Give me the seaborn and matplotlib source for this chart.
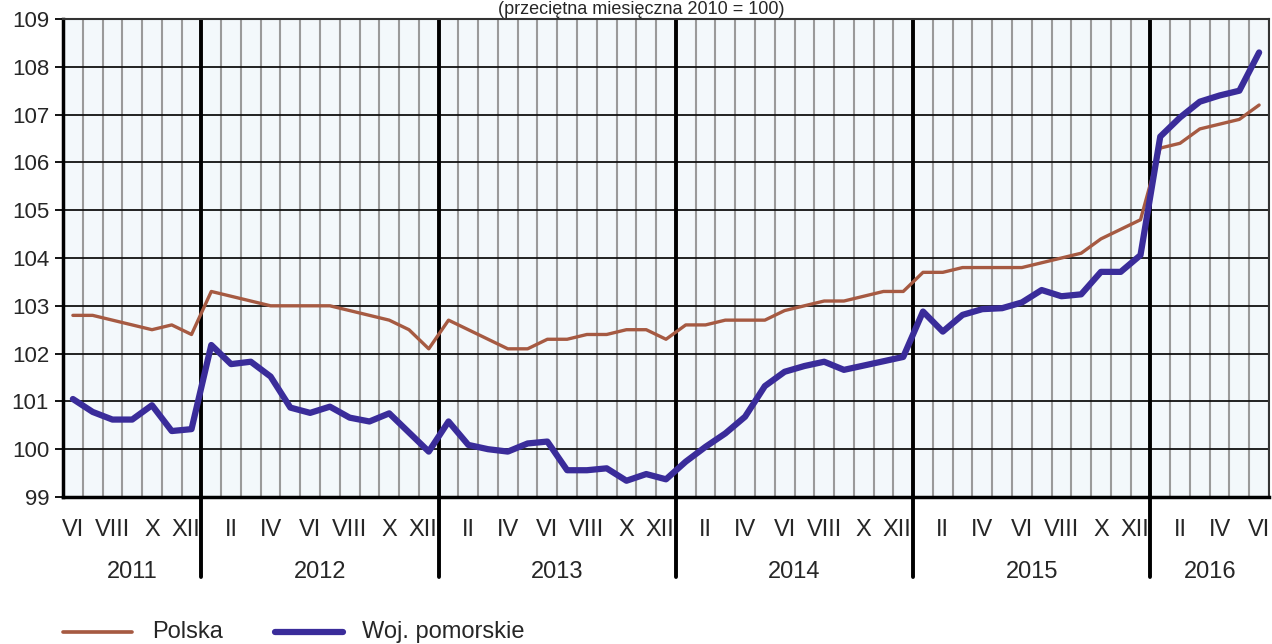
import numpy as np
import pandas as pd
import matplotlib
matplotlib.use("Agg")
import matplotlib.pyplot as plt
from matplotlib.lines import Line2D
import seaborn as sns

# ---- data (VI 2011 .. VI 2016, monthly) ----
years = ["2011", "2012", "2013", "2014", "2015", "2016"]
months_per_year = [7, 12, 12, 12, 12, 6]
first_month = 6  # June 2011
roman = ["I", "II", "III", "IV", "V", "VI", "VII", "VIII", "IX", "X", "XI", "XII"]

polska = [102.8, 102.8, 102.7, 102.6, 102.5, 102.6, 102.4,
          103.3, 103.2, 103.1, 103.0, 103.0, 103.0, 103.0, 102.9, 102.8, 102.7, 102.5, 102.1,
          102.7, 102.5, 102.3, 102.1, 102.1, 102.3, 102.3, 102.4, 102.4, 102.5, 102.5, 102.3,
          102.6, 102.6, 102.7, 102.7, 102.7, 102.9, 103.0, 103.1, 103.1, 103.2, 103.3, 103.3,
          103.7, 103.7, 103.8, 103.8, 103.8, 103.8, 103.9, 104.0, 104.1, 104.4, 104.6, 104.8,
          106.3, 106.4, 106.7, 106.8, 106.9, 107.2]

pomorskie = [101.05, 100.78, 100.62, 100.62, 100.92, 100.38, 100.42,
             102.18, 101.78, 101.83, 101.52, 100.87, 100.76, 100.89, 100.66, 100.58, 100.75, 100.35, 99.95,
             100.58, 100.09, 100.00, 99.95, 100.12, 100.16, 99.56, 99.56, 99.60, 99.34, 99.48, 99.37,
             99.74, 100.05, 100.33, 100.68, 101.32, 101.62, 101.74, 101.83, 101.66, 101.75, 101.84, 101.93,
             102.88, 102.46, 102.81, 102.93, 102.95, 103.07, 103.33, 103.20, 103.24, 103.71, 103.71, 104.06,
             106.54, 106.94, 107.27, 107.40, 107.50, 108.30]

series_names = ["Polska", "Woj. pomorskie"]
title_text = "(przeciętna miesięczna 2010 = 100)"

n = len(polska)
idx = np.arange(n)
month_num = [((first_month - 1 + i) % 12) + 1 for i in range(n)]

df = pd.DataFrame({
    "i": np.concatenate([idx, idx]),
    "value": polska + pomorskie,
    "series": [series_names[0]] * n + [series_names[1]] * n,
})

sns.set_theme(style="white")
plt.rcParams["font.family"] = ["Liberation Sans", "DejaVu Sans"]

W, H = 1272, 644
fig = plt.figure(figsize=(W / 100, H / 100), dpi=100)
ax = fig.add_axes([63 / W, 1 - 497 / H, (1269 - 63) / W, (497 - 19) / H])
ax.set_facecolor("#F3F8FB")

# grid: monthly vertical lines (gray), integer horizontal lines (black)
for b in np.arange(-0.5, n, 1.0):
    ax.axvline(b, color="#9A9A9A", lw=1.5, zorder=1)
for yv in range(99, 110):
    ax.axhline(yv, color="#111111", lw=1.3, zorder=1.5)

# year boundaries
bounds = np.cumsum(months_per_year)[:-1] - 0.5
for b in bounds:
    ax.axvline(b, color="black", lw=2.8, zorder=2)
    ax.plot([b, b], [0, -80 / 478], transform=ax.get_xaxis_transform(),
            color="black", lw=2.8, clip_on=False, zorder=2)

palette = {series_names[0]: "#A65A42", series_names[1]: "#3A2C9A"}
lws = {series_names[0]: 2.4, series_names[1]: 4.5}
for k, name in enumerate(series_names):
    sns.lineplot(data=df[df.series == name], x="i", y="value", color=palette[name],
                 lw=lws[name], ax=ax, legend=False, zorder=3 + k, solid_capstyle="round")

ax.set_xlim(-0.5, n - 0.5)
ax.set_ylim(99, 109)
ax.set_xlabel("")
ax.set_ylabel("")

ax.set_yticks(range(99, 110))
ax.tick_params(axis="y", labelsize=16, length=6, width=1.3, color="black", left=True, pad=4)

tick_idx = [i for i in range(n) if month_num[i] % 2 == 0]
tick_pos = [i - 0.3 if month_num[i] == 12 else i for i in tick_idx]
ax.set_xticks(tick_pos)
ax.set_xticklabels([roman[month_num[i] - 1] for i in tick_idx], fontsize=17)
ax.tick_params(axis="x", length=0, pad=16)

# year labels
starts = np.concatenate([[0], np.cumsum(months_per_year)[:-1]])
for y, s, m in zip(years, starts, months_per_year):
    ax.text(s + (m - 1) / 2, -81 / 478, y, transform=ax.get_xaxis_transform(),
            ha="center", va="baseline", fontsize=17)

for sp in ax.spines.values():
    sp.set_visible(True)
    sp.set_color("#333333")
    sp.set_linewidth(1.5)
for s in ("left", "bottom"):
    ax.spines[s].set_color("black")
    ax.spines[s].set_linewidth(2.5)

fig.text(641 / W, 1 - 1 / H, title_text, ha="center", va="top", fontsize=13)

# legend (drawn manually to match reference placement)
ly = 1 - 632 / H
fig.add_artist(Line2D([63 / W, 132 / W], [ly, ly], color=palette[series_names[0]],
                      lw=lws[series_names[0]] * 1.1, transform=fig.transFigure))
fig.text(152 / W, ly, series_names[0], ha="left", va="center", fontsize=17)
fig.add_artist(Line2D([275 / W, 343 / W], [ly, ly], color=palette[series_names[1]],
                      lw=lws[series_names[1]], solid_capstyle="round", transform=fig.transFigure))
fig.text(362 / W, ly, series_names[1], ha="left", va="center", fontsize=17)

fig.savefig("out.png", dpi=100)
